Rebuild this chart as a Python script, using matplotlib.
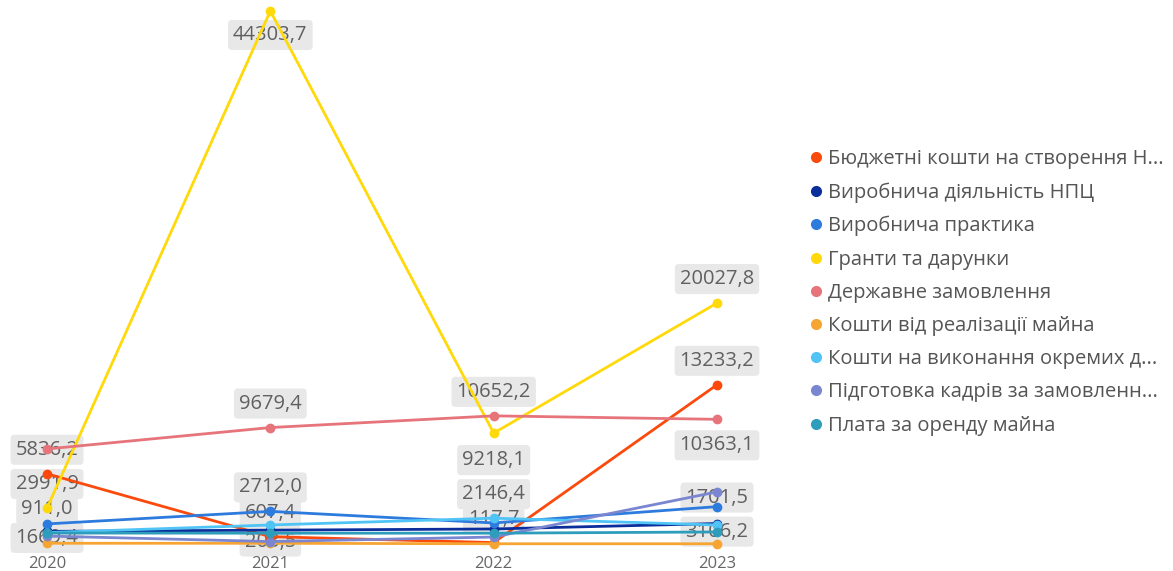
import matplotlib.pyplot as plt

years = [2020, 2021, 2022, 2023]

names = [
    'Бюджетні кошти на створення Н...',
    'Виробнича діяльність НПЦ',
    'Виробнича практика',
    'Гранти та дарунки',
    'Державне замовлення',
    'Кошти від реалізації майна',
    'Кошти на виконання окремих д...',
    'Підготовка кадрів за замовленн...',
    'Плата за оренду майна',
]
colors = ['#FC4A0D', '#0B2E9C', '#2E7BDE', '#FFD90A', '#E6747A',
          '#F7A532', '#4FC4F5', '#7A86CF', '#2E9DBC']

budget = [5836.2, 607.4, 117.7, 13233.2]
production = [1050.0, 1150.0, 1250.0, 1701.5]
practice = [1669.4, 2712.0, 1750.0, 3106.2]
grants = [2991.9, 44303.7, 9218.1, 20027.8]
state_order = [7900.0, 9679.4, 10652.2, 10363.1]
property_sale = [60.0, 60.0, 20.0, 20.0]
separate_tasks = [950.0, 1580.0, 2146.4, 1580.0]
training = [660.0, 203.5, 580.0, 4330.0]
rent = [911.0, 900.0, 900.0, 1000.0]

series = [budget, production, practice, grants, state_order,
          property_sale, separate_tasks, training, rent]

# shown data labels: (series index, year index, offset in px, text)
labels = [
    (0, 0, -24, '5836,2'), (3, 0, -24, '2991,9'), (8, 0, -24, '911,0'),
    (2, 0, 14, '1669,4'),
    (3, 1, 24, '44303,7'), (4, 1, -24, '9679,4'), (2, 1, -24, '2712,0'),
    (0, 1, -24, '607,4'), (7, 1, 0, '203,5'),
    (4, 2, -24, '10652,2'), (3, 2, 27, '9218,1'), (6, 2, -24, '2146,4'),
    (0, 2, -24, '117,7'),
    (3, 3, -24, '20027,8'), (0, 3, -24, '13233,2'), (4, 3, 26, '10363,1'),
    (1, 3, -26, '1701,5'), (2, 3, 25, '3106,2'),
]

plt.rcParams['font.family'] = ['Open Sans', 'DejaVu Sans']

fig = plt.figure(figsize=(11.73, 5.71), dpi=100)
ax = fig.add_axes([47 / 1173, 27 / 571, 670 / 1173, 533 / 571])

for vals, c, n in zip(series, colors, names):
    ax.plot(years, vals, color=c, lw=2.0, marker='o', ms=6, label=n, clip_on=False)

for si, yi, off, txt in labels:
    ax.annotate(txt, (years[yi], series[si][yi]), xytext=(0, -off * 0.72),
                textcoords='offset points', ha='center', va='center',
                fontsize=14.5, color='#606060', zorder=1,
                bbox=dict(boxstyle='round,pad=0.25,rounding_size=0.2',
                          fc='#E8E8E8', ec='none'))

ax.set_xlim(2020, 2023)
ax.set_ylim(0, 44303.7)
ax.set_xticks(years)
ax.set_xticklabels([str(y) for y in years])
ax.tick_params(axis='x', length=0, pad=9, labelsize=12, labelcolor='#666666')
ax.set_yticks([])
for s in ax.spines.values():
    s.set_visible(False)

handles, lbls = ax.get_legend_handles_labels()
handles = [plt.Line2D([], [], ls='none', marker='o', ms=7, color=c) for c in colors]
fig.legend(handles, lbls, loc='upper left', bbox_to_anchor=(792 / 1173, 1 - 131 / 571),
           frameon=False, fontsize=14.5, labelcolor='#555555', handlelength=0.6,
           handletextpad=0.3, labelspacing=0.655)

fig.savefig('out.png', dpi=100)
